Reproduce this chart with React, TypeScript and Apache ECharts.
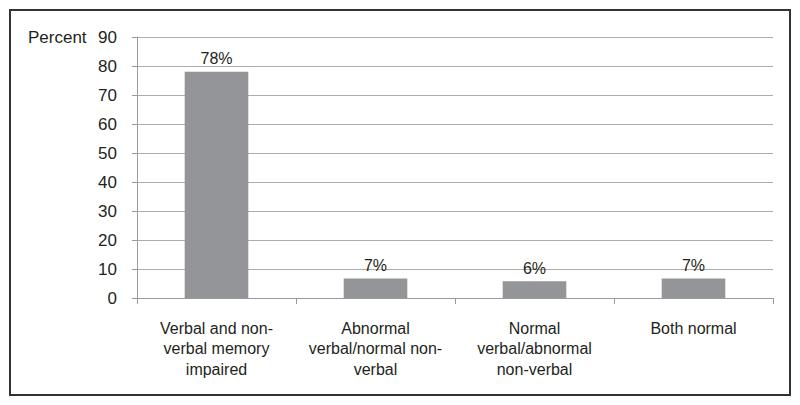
import React, { useEffect, useRef } from "react";
import * as echarts from "echarts";

const categories = [
  "Verbal and non-\nverbal memory\nimpaired",
  "Abnormal\nverbal/normal non-\nverbal",
  "Normal\nverbal/abnormal\nnon-verbal",
  "Both normal",
];
const values = [78, 6.7, 5.8, 6.7];
const valueLabels = ["78%", "7%", "6%", "7%"];
const yTicks = { min: 0, max: 90, interval: 10 };
const yTitle = "Percent";

const FONT = "'Liberation Sans', Arial, sans-serif";
const TEXT = "#231f20";

export default function App() {
  const ref = useRef<HTMLDivElement>(null);
  useEffect(() => {
    document.body.style.margin = "0";
    const chart = echarts.init(ref.current!, null, { renderer: "svg" });
    chart.setOption({
      animation: false,
      backgroundColor: "#ffffff",
      textStyle: { fontFamily: FONT, color: TEXT },
      grid: { left: 137, right: 27, top: 37, bottom: 107, containLabel: false },
      graphic: [
        {
          type: "rect",
          shape: { x: 10, y: 10, width: 780, height: 385 },
          style: { fill: "none", stroke: "#333333", lineWidth: 2 },
          silent: true,
        },
        {
          type: "text",
          x: 28,
          y: 37,
          style: {
            text: yTitle,
            fontFamily: FONT,
            fontSize: 17,
            fill: TEXT,
            verticalAlign: "middle",
            align: "left",
          },
        },
      ],
      xAxis: {
        type: "category",
        data: categories,
        axisLine: { show: true, lineStyle: { color: "#9a9a9a", width: 1 } },
        axisTick: { show: true, length: 6, alignWithLabel: false, lineStyle: { color: "#9a9a9a" } },
        axisLabel: {
          interval: 0,
          margin: 20,
          fontSize: 16,
          lineHeight: 20.5,
          color: TEXT,
          fontFamily: FONT,
        },
      },
      yAxis: {
        type: "value",
        min: yTicks.min,
        max: yTicks.max,
        interval: yTicks.interval,
        axisLine: { show: true, lineStyle: { color: "#9a9a9a", width: 1 } },
        axisTick: { show: true, length: 5, lineStyle: { color: "#9a9a9a" } },
        splitLine: { show: true, lineStyle: { color: "#acacac", width: 1 } },
        axisLabel: { margin: 20, fontSize: 17, color: TEXT, fontFamily: FONT },
      },
      series: [
        {
          type: "bar",
          data: values,
          barWidth: "40%",
          itemStyle: { color: "#939598" },
          label: {
            show: true,
            position: "top",
            distance: 5,
            fontSize: 16,
            color: TEXT,
            fontFamily: FONT,
            formatter: (p: any) => valueLabels[p.dataIndex],
          },
        },
      ],
    });
    return () => chart.dispose();
  }, []);
  return <div ref={ref} style={{ width: 800, height: 405 }} />;
}
